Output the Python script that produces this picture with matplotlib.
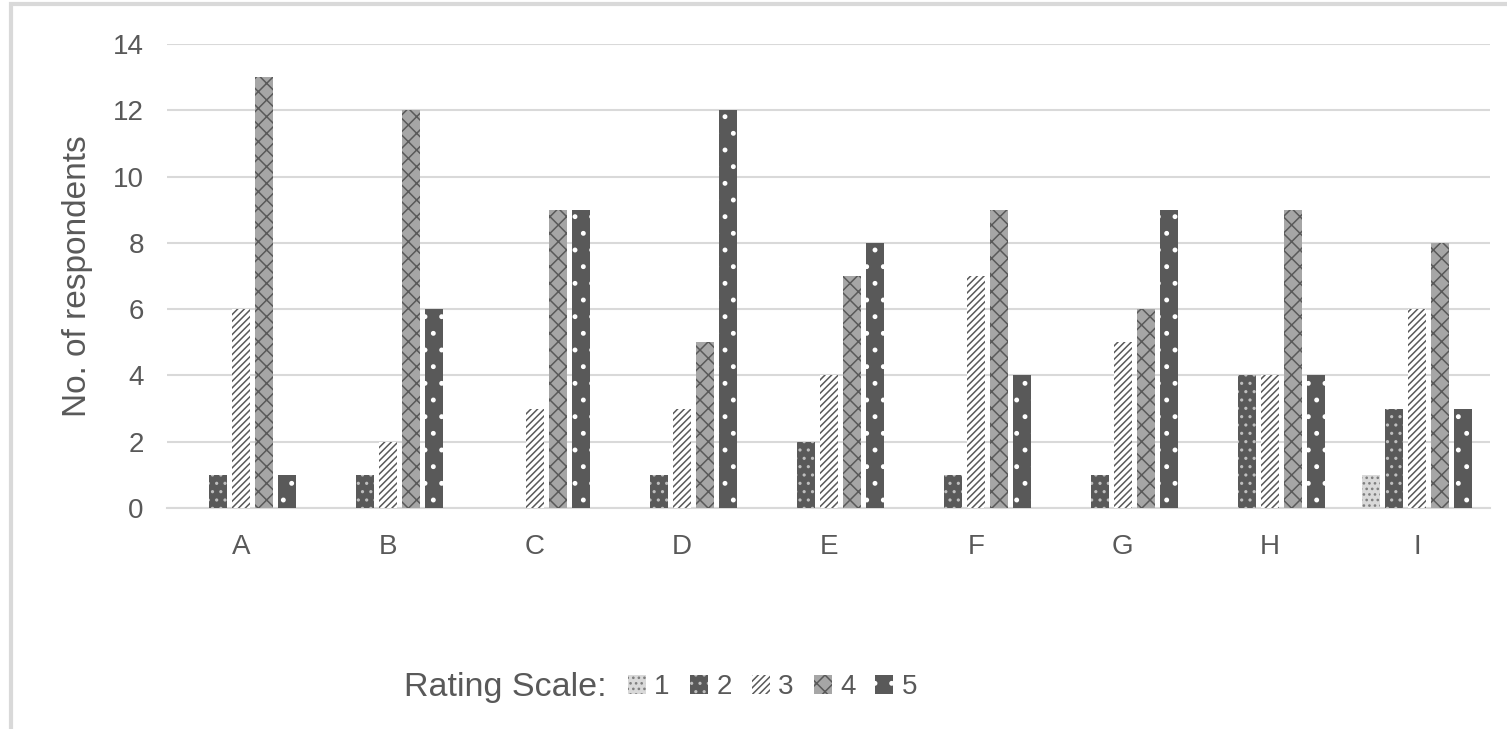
import matplotlib
matplotlib.use("Agg")
import matplotlib.pyplot as plt
from matplotlib.patches import Patch, Rectangle
import numpy as np

plt.rcParams['font.family'] = ['Liberation Sans', 'DejaVu Sans']
plt.rcParams['hatch.linewidth'] = 1.1

categories = ['A', 'B', 'C', 'D', 'E', 'F', 'G', 'H', 'I']
series_names = ['1', '2', '3', '4', '5']
r1 = [0, 0, 0, 0, 0, 0, 0, 0, 1]
r2 = [1, 1, 0, 1, 2, 1, 1, 4, 3]
r3 = [6, 2, 3, 3, 4, 7, 5, 4, 6]
r4 = [13, 12, 9, 5, 7, 9, 6, 9, 8]
r5 = [1, 6, 9, 12, 8, 4, 9, 4, 3]
values = [r1, r2, r3, r4, r5]

faces = ['#d9d9d9', '#595959', '#ffffff', '#a6a6a6', '#595959']
hatch_cols = ['#7f7f7f', '#bfbfbf', '#595959', '#595959', '#ffffff']
hatches = ['...', '..', '/////', 'xx', '.']

fig = plt.figure(figsize=(15.07, 7.29), dpi=100)
ax = fig.add_axes([0.1111, 0.3032, 0.8779, 0.6364])

x = np.arange(len(categories))
w = 0.126
step = 0.157
for i, (vals, fc, hc, h) in enumerate(zip(values, faces, hatch_cols, hatches)):
    ax.bar(x + (i - 2) * step, vals, width=w, color=fc, edgecolor=hc,
           hatch=h, linewidth=0, zorder=3, label=series_names[i])

ax.set_xlim(-0.5, 8.5)
ax.set_ylim(0, 14)
ax.set_yticks(range(0, 15, 2))
ax.set_xticks(x)
ax.set_xticklabels(categories)
ax.grid(axis='y', color='#d9d9d9', linewidth=1.5, zorder=0)
for s in ['top', 'right', 'left']:
    ax.spines[s].set_visible(False)
ax.spines['bottom'].set_color('#d9d9d9')
ax.spines['bottom'].set_linewidth(1.5)
ax.tick_params(axis='both', length=0, colors='#595959', labelsize=20)
ax.tick_params(axis='y', pad=17)
ax.tick_params(axis='x', pad=19)
ax.set_ylabel('No. of respondents', fontsize=24, color='#595959', labelpad=14)

# legend
handles = [Patch(facecolor=fc, edgecolor=hc, hatch=h, linewidth=0)
           for fc, hc, h in zip(faces, hatch_cols, hatches)]
fig.text(0.268, 0.0576, 'Rating Scale:', fontsize=24.5, color='#595959',
         ha='left', va='center')
leg = fig.legend(handles, series_names, loc='center left',
                 bbox_to_anchor=(0.4167, 0.0576), ncol=5, frameon=False,
                 fontsize=20, handlelength=0.65, handleheight=0.7,
                 handletextpad=0.3, columnspacing=0.72, borderpad=0,
                 borderaxespad=0, labelcolor='#595959')

# outer frame
fig.patches.append(Rectangle((0.007, -0.01), 1.1, 1.004, transform=fig.transFigure,
                             fill=False, edgecolor='#d9d9d9', linewidth=3))

fig.savefig('out.png', dpi=100)
